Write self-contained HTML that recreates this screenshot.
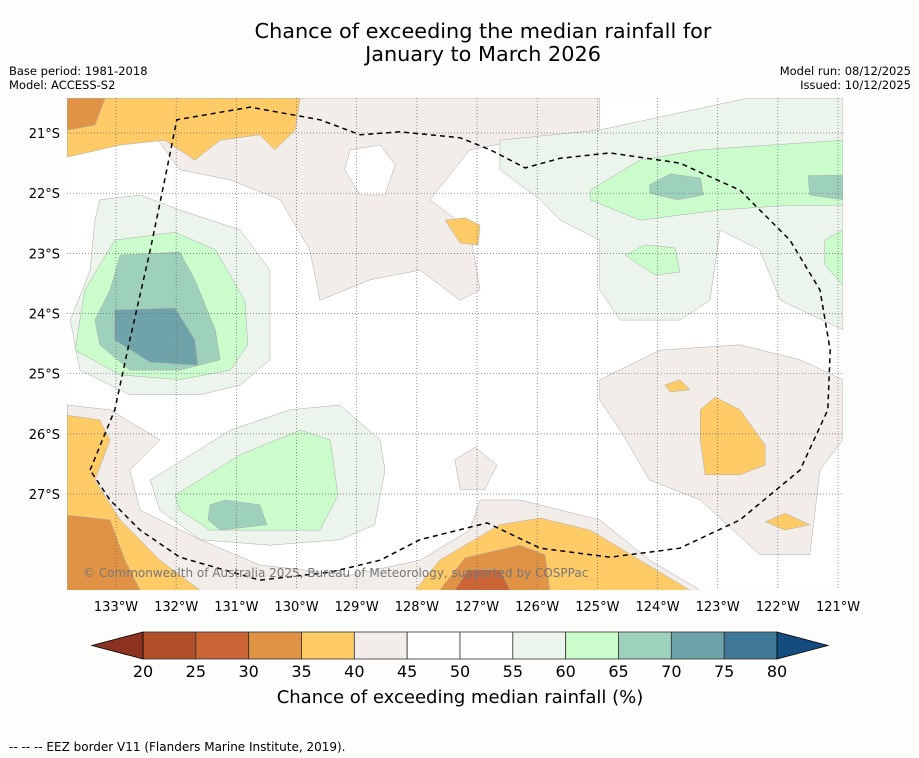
<!DOCTYPE html>
<html><head><meta charset="utf-8">
<style>
body{margin:0;background:#fdfdfb;width:919px;height:758px;overflow:hidden;font-family:"DejaVu Sans","Liberation Sans",sans-serif;}
svg{position:absolute;left:0;top:0}
</style></head>
<body>
<svg id="chart" width="919" height="758" viewBox="0 0 919 758" xmlns="http://www.w3.org/2000/svg" font-family="DejaVu Sans, Liberation Sans, sans-serif">
<text x="483" y="38" font-size="20.8" text-anchor="middle" fill="#000">Chance of exceeding the median rainfall for</text>
<text x="483" y="61" font-size="20.8" text-anchor="middle" fill="#000">January to March 2026</text>
<text x="9" y="75" font-size="11.5">Base period: 1981-2018</text>
<text x="9" y="89" font-size="11.5">Model: ACCESS-S2</text>
<text x="911" y="75" font-size="11.5" text-anchor="end">Model run: 08/12/2025</text>
<text x="911" y="89" font-size="11.5" text-anchor="end">Issued: 10/12/2025</text>
<defs><clipPath id="mapclip"><rect x="67" y="98" width="776" height="492"/></clipPath></defs>
<rect x="67" y="98" width="776" height="492" fill="#ffffff"/>
<g id="contours" clip-path="url(#mapclip)"></g>
<g id="grid"></g>
<g id="eez" clip-path="url(#mapclip)"></g>
<text x="83" y="577" font-size="12" fill="#777">© Commonwealth of Australia 2025, Bureau of Meteorology, supported by COSPPac</text>
<g id="axes"></g>
<g id="colorbar"></g>
<text x="460" y="703" font-size="18" text-anchor="middle">Chance of exceeding median rainfall (%)</text>
<text x="9" y="751" font-size="12">--  --  -- EEZ border V11 (Flanders Marine Institute, 2019).</text>
</svg>
<script>
const lonTicks=[133,132,131,130,129,128,127,126,125,124,123,122,121];
const latTicks=[21,22,23,24,25,26,27];
const cbLevels=[20,25,30,35,40,45,50,55,60,65,70,75,80];
const cbColors=["#b04f2a","#cc6535","#e09245","#fecb66","#f2ede9","#ffffff","#ffffff","#ecf5ec","#cbfccb","#9dd1bc","#6ea4a9","#3f7896"];
const cbUnder="#8c3220", cbOver="#154c80";
const C={orange:"#fecb66",beige:"#f2ede9",white:"#ffffff",lg:"#ecf5ec",green:"#cbfccb",teal:"#9dd1bc",dteal:"#6ea4a9",dor:"#e09245",bor:"#cc6535",brown:"#b04f2a"};
const beigeTop=[[133.81,20.42],[124.96,20.42],[124.96,20.95],[126.29,21.12],[127.12,21.28],[127.78,22.11],[127.12,22.61],[126.95,23.61],[127.28,23.78],[127.95,23.28],[128.78,23.44],[129.61,23.78],[129.78,22.94],[130.27,22.11],[131.1,21.78],[131.94,21.61],[132.43,20.95],[133.81,21.28]];
const whiteTop=[[129.11,21.28],[128.61,21.2],[128.36,21.53],[128.53,22.03],[128.94,22.03],[129.2,21.61]];
const orangeTop=[[133.81,20.42],[129.94,20.42],[130.02,20.95],[130.36,21.28],[130.61,21.03],[131.27,21.12],[131.69,21.45],[132.19,21.12],[132.93,21.2],[133.81,21.4]];
const darkCorner=[[133.81,20.42],[133.18,20.42],[133.35,20.87],[133.81,20.95]];
const orangeBlob=[[127.53,22.45],[127.2,22.41],[126.95,22.53],[126.98,22.86],[127.28,22.83]];
const lgLeft=[[133.27,22.11],[132.6,22.03],[131.94,22.28],[130.94,22.61],[130.44,23.28],[130.44,24.77],[130.94,25.19],[131.6,25.35],[132.77,25.35],[133.6,24.94],[133.76,24.11],[133.43,23.28],[133.35,22.45]];
const greenLeft=[[133.02,22.78],[132.02,22.65],[131.35,22.94],[130.86,23.78],[130.81,24.52],[131.1,24.94],[131.94,25.1],[132.93,25.02],[133.68,24.61],[133.52,23.61]];
const tealLeft=[[132.93,23.03],[131.94,22.98],[131.69,23.44],[131.35,24.27],[131.27,24.77],[131.94,24.94],[132.77,24.94],[133.27,24.52],[133.35,24.11],[133.1,23.61]];
const dtealLeft=[[133.02,23.94],[132.02,23.91],[131.69,24.44],[131.64,24.86],[132.43,24.81],[133.02,24.44]];
const lgRight=[[126.62,21.12],[124.96,20.95],[122.5,20.42],[120.92,20.42],[120.92,24.27],[121.96,23.78],[122.3,22.94],[122.96,22.61],[123.13,23.78],[123.63,24.11],[124.62,24.11],[124.96,23.61],[124.96,22.78],[125.62,22.45],[125.95,22.11],[126.62,21.61]];
const greenRight=[[125.12,21.95],[124.29,21.45],[123.29,21.28],[120.92,21.12],[120.92,22.2],[121.8,22.2],[122.96,22.28],[124.29,22.45],[125.12,22.11]];
const tealR1=[[124.13,21.86],[123.79,21.68],[123.29,21.75],[123.24,22.03],[123.68,22.11],[124.13,22.0]];
const tealR2=[[121.5,21.71],[120.92,21.7],[120.92,22.11],[121.47,22.03]];
const greenSmall=[[124.54,23.03],[124.21,22.86],[123.71,22.91],[123.63,23.31],[124.04,23.36]];
const greenEdge=[[121.22,22.78],[120.92,22.61],[120.92,23.53],[121.22,23.19]];
const beigeRight=[[124.96,25.1],[123.96,24.61],[122.63,24.52],[121.63,24.77],[120.92,25.1],[120.92,26.1],[121.3,26.6],[121.47,28.01],[122.3,28.01],[123.29,27.1],[124.13,26.77],[124.62,25.94],[124.96,25.44]];
const orangeRight=[[123.29,25.6],[123.04,25.39],[122.63,25.6],[122.21,26.19],[122.21,26.52],[122.63,26.68],[123.21,26.68],[123.29,26.1]];
const orangeR2=[[123.88,25.19],[123.63,25.1],[123.46,25.27],[123.79,25.3]];
const orangeR3=[[122.21,27.46],[121.88,27.32],[121.47,27.51],[121.88,27.6]];
const beigeBottom=[[133.81,25.52],[133.1,25.6],[132.27,26.1],[132.77,26.6],[132.6,27.27],[131.6,27.76],[130.61,28.18],[129.11,28.35],[127.95,28.1],[127.12,27.6],[126.95,27.1],[126.29,27.1],[124.96,27.43],[124.13,28.1],[123.29,28.6],[133.81,28.6]];
const orangeBL=[[133.81,25.69],[133.27,25.77],[133.1,26.1],[133.35,26.77],[132.93,27.43],[132.27,28.1],[131.6,28.6],[133.81,28.6]];
const dorBL=[[133.81,27.35],[133.1,27.43],[132.85,28.1],[132.6,28.6],[133.81,28.6]];
const orangeBM=[[128.03,28.6],[127.62,28.1],[126.62,27.51],[125.95,27.4],[125.12,27.6],[124.29,28.1],[123.46,28.6]];
const dorBM=[[127.62,28.6],[127.2,28.06],[126.29,27.85],[125.87,28.01],[125.79,28.6]];
const brownBM=[[127.37,28.6],[127.15,28.26],[126.62,28.26],[126.45,28.6]];
const lgBL=[[132.43,26.77],[131.1,25.94],[130.11,25.6],[129.28,25.52],[128.61,26.1],[128.53,26.6],[128.7,27.51],[129.28,27.76],[130.44,27.85],[131.6,27.76],[132.27,27.27]];
const greenBL=[[132.02,27.02],[130.94,26.35],[129.94,25.94],[129.44,26.1],[129.31,27.02],[129.61,27.6],[130.52,27.6],[131.44,27.6],[131.94,27.27]];
const tealBL=[[131.44,27.18],[131.19,27.1],[130.61,27.18],[130.49,27.51],[131.27,27.6],[131.47,27.43]];
const beigeBlob=[[127.37,26.43],[127.03,26.22],[126.67,26.52],[126.87,26.93],[127.28,26.93]];
const eezLine=[[133.43,26.6],[133.02,25.6],[132.77,24.44],[132.43,22.94],[132.19,21.78],[131.99,20.78],[130.77,20.57],[129.61,20.78],[128.94,21.03],[128.28,20.98],[127.28,21.08],[126.78,21.28],[126.2,21.58],[125.62,21.42],[124.79,21.33],[123.63,21.5],[122.63,21.95],[121.8,22.78],[121.3,23.61],[121.13,24.61],[121.17,25.6],[121.63,26.6],[122.63,27.43],[123.63,27.9],[124.79,28.05],[125.95,27.9],[126.83,27.48],[127.95,27.76],[128.61,28.1],[129.44,28.3],[130.61,28.43],[131.94,28.05],[132.6,27.6],[133.1,27.1],[133.43,26.6]];

const NS="http://www.w3.org/2000/svg";
const PX=60.17;
function xLon(w){return 116+(133-w)*PX;}
function yLat(s){return 133+(s-21)*PX;}
function pts(a){return a.map(p=>xLon(p[0]).toFixed(1)+","+yLat(p[1]).toFixed(1)).join(" ");}
const layers=[
 ["beige-top",beigeTop,C.beige],["white-top",whiteTop,C.white],["orange-top",orangeTop,C.orange],["dark-orange-corner",darkCorner,C.dor],["orange-blob",orangeBlob,C.orange],
 ["lightgreen-left",lgLeft,C.lg],["green-left",greenLeft,C.green],["teal-left",tealLeft,C.teal],["darkteal-left",dtealLeft,C.dteal],
 ["lightgreen-right",lgRight,C.lg],["green-right",greenRight,C.green],["teal-right-1",tealR1,C.teal],["teal-right-2",tealR2,C.teal],["green-small",greenSmall,C.green],["green-edge",greenEdge,C.green],
 ["beige-right",beigeRight,C.beige],["orange-right",orangeRight,C.orange],["orange-right-2",orangeR2,C.orange],["orange-right-3",orangeR3,C.orange],
 ["beige-bottom",beigeBottom,C.beige],["orange-bottom-left",orangeBL,C.orange],["darkorange-bottom-left",dorBL,C.dor],["orange-bottom-mid",orangeBM,C.orange],["darkorange-bottom-mid",dorBM,C.dor],["brown-bottom-mid",brownBM,C.bor],
 ["lightgreen-bottom-left",lgBL,C.lg],["green-bottom-left",greenBL,C.green],["teal-bottom-left",tealBL,C.teal],["beige-blob",beigeBlob,C.beige]
];
const cg=document.getElementById("contours");
for(const L of layers){
 const p=document.createElementNS(NS,"polygon");
 p.setAttribute("points",pts(L[1]));
 p.setAttribute("fill",L[2]);
 p.setAttribute("stroke","#aaa");
 p.setAttribute("stroke-width","0.5");
 p.setAttribute("stroke-linejoin","round");
 
 
 cg.appendChild(p);
}
const gg=document.getElementById("grid"), ag=document.getElementById("axes");
for(const w of lonTicks){
 const l=document.createElementNS(NS,"line");
 l.setAttribute("x1",xLon(w));l.setAttribute("x2",xLon(w));l.setAttribute("y1",98);l.setAttribute("y2",590);
 l.setAttribute("stroke","#666");l.setAttribute("stroke-width","0.7");l.setAttribute("stroke-dasharray","1,2");
 
 
 gg.appendChild(l);
 const t=document.createElementNS(NS,"text");
 t.setAttribute("x",xLon(w));t.setAttribute("y",611);t.setAttribute("font-size","13");t.setAttribute("text-anchor","middle");
 t.textContent=w+"°W";
 
 
 ag.appendChild(t);
}
for(const s of latTicks){
 const l=document.createElementNS(NS,"line");
 l.setAttribute("x1",67);l.setAttribute("x2",843);l.setAttribute("y1",yLat(s));l.setAttribute("y2",yLat(s));
 l.setAttribute("stroke","#666");l.setAttribute("stroke-width","0.7");l.setAttribute("stroke-dasharray","1,2");
 
 
 gg.appendChild(l);
 const t=document.createElementNS(NS,"text");
 t.setAttribute("x",60);t.setAttribute("y",yLat(s)+5);t.setAttribute("font-size","13");t.setAttribute("text-anchor","end");
 t.textContent=s+"°S";
 
 
 ag.appendChild(t);
}
const e=document.createElementNS(NS,"polyline");
e.setAttribute("points",pts(eezLine));e.setAttribute("fill","none");e.setAttribute("stroke","#000");
e.setAttribute("stroke-width","1.5");e.setAttribute("stroke-dasharray","5,4");


document.getElementById("eez").appendChild(e);
const cb=document.getElementById("colorbar");
const cbX0=143,cbX1=777,cbY=632,cbH=27;
function xCb(v){return cbX0+(v-cbLevels[0])/(cbLevels[cbLevels.length-1]-cbLevels[0])*(cbX1-cbX0);}
for(let i=0;i<cbColors.length;i++){
 const r=document.createElementNS(NS,"rect");
 r.setAttribute("x",xCb(cbLevels[i]));r.setAttribute("y",cbY);r.setAttribute("width",xCb(cbLevels[i+1])-xCb(cbLevels[i]));r.setAttribute("height",cbH);
 r.setAttribute("fill",cbColors[i]);r.setAttribute("stroke","#333");r.setAttribute("stroke-width","0.8");
 
 
 cb.appendChild(r);
}
const tl=document.createElementNS(NS,"polygon");
tl.setAttribute("points",`${cbX0},${cbY} 92,${cbY+cbH/2} ${cbX0},${cbY+cbH}`);tl.setAttribute("fill",cbUnder);tl.setAttribute("stroke","#000");tl.setAttribute("stroke-width","0.8");


cb.appendChild(tl);
const tr=document.createElementNS(NS,"polygon");
tr.setAttribute("points",`${cbX1},${cbY} 828,${cbY+cbH/2} ${cbX1},${cbY+cbH}`);tr.setAttribute("fill",cbOver);tr.setAttribute("stroke","#000");tr.setAttribute("stroke-width","0.8");


cb.appendChild(tr);
for(const v of cbLevels){
 const t=document.createElementNS(NS,"text");
 t.setAttribute("x",xCb(v));t.setAttribute("y",677);t.setAttribute("font-size","16");t.setAttribute("text-anchor","middle");
 t.textContent=v;
 
 
 cb.appendChild(t);
}
</script>
</body></html>
